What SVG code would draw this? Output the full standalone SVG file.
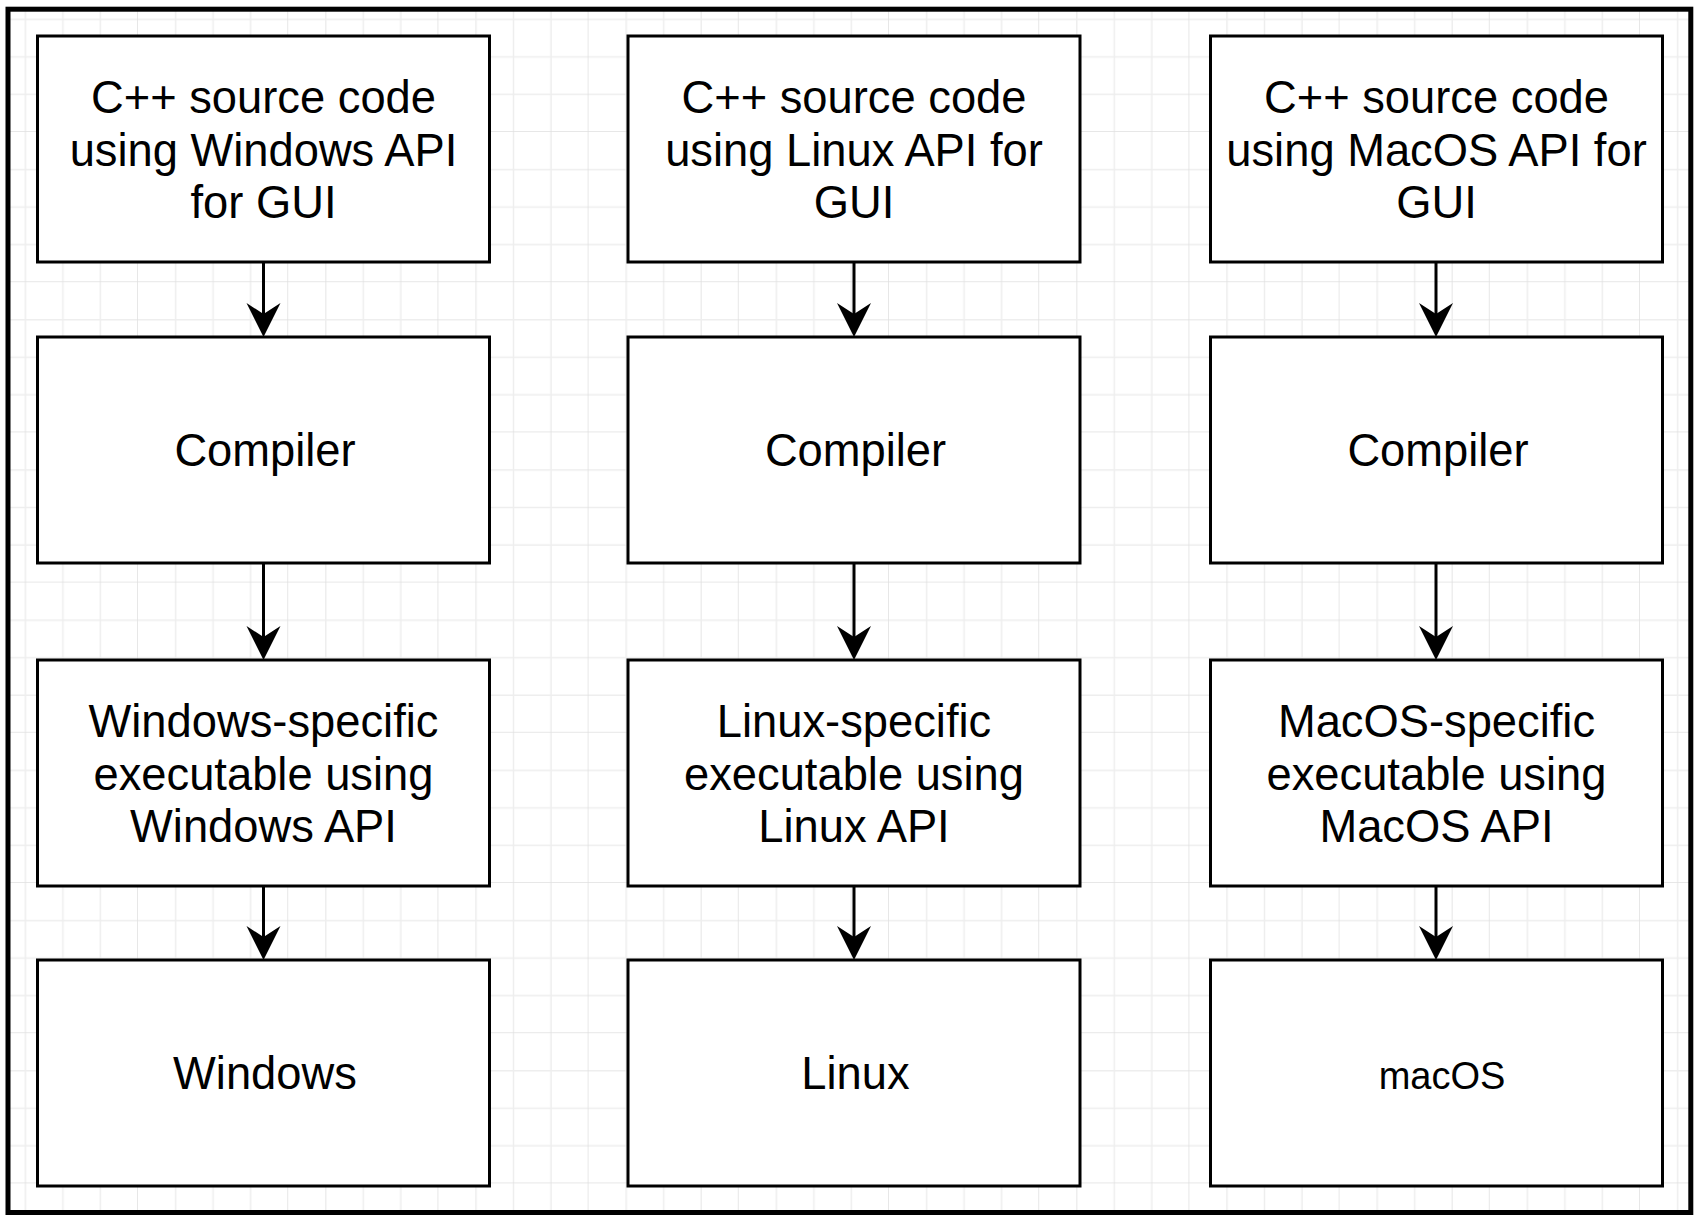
<svg xmlns="http://www.w3.org/2000/svg" width="1705" height="1218" viewBox="0 0 1705 1218">
<style>
.box{fill:#ffffff;stroke:#000000;stroke-width:3}
.t{font-family:"Liberation Sans",Arial,Helvetica,sans-serif;font-size:45.3px;fill:#000000;text-anchor:middle}
.conn{stroke:#000000;stroke-width:3;fill:none;marker-end:url(#arr)}
</style>
<defs>
<pattern id="grid" patternUnits="userSpaceOnUse" x="-12.2" y="-18.2" width="150.2" height="150.2">
<path d="M37.55,0V150.2M75.1,0V150.2M112.65,0V150.2M0,37.55H150.2M0,75.1H150.2M0,112.65H150.2" stroke="#eeeeee" stroke-width="1.5" fill="none"/>
<path d="M150.2,0V150.2M0,150.2H150.2" stroke="#e0e0e0" stroke-width="1.5" fill="none"/>
</pattern>
<marker id="arr" markerUnits="userSpaceOnUse" markerWidth="40" markerHeight="40" refX="11" refY="17" orient="auto" overflow="visible">
<path d="M34,17L0,0L11,17L0,34Z" fill="#000000"/>
</marker>
</defs>
<rect x="0" y="0" width="1705" height="1218" fill="#ffffff"/>
<rect x="8" y="9.2" width="1682.8" height="1203.3" fill="url(#grid)"/>
<rect x="8" y="9.2" width="1682.8" height="1203.3" fill="none" stroke="#000000" stroke-width="5"/>

<g id="connectors">
<path class="conn" d="M263.5,262V314"/>
<path class="conn" d="M263.5,563V637"/>
<path class="conn" d="M263.5,886V937"/>
<path class="conn" d="M854,262V314"/>
<path class="conn" d="M854,563V637"/>
<path class="conn" d="M854,886V937"/>
<path class="conn" d="M1436,262V314"/>
<path class="conn" d="M1436,563V637"/>
<path class="conn" d="M1436,886V937"/>
</g>

<g id="win-src"><rect class="box" x="37.5" y="36" width="452" height="226"/>
<text class="t" x="263.5" y="113">C++ source code</text><text class="t" x="263.5" y="165.5">using Windows API</text><text class="t" x="263.5" y="218">for GUI</text></g>
<g id="win-comp"><rect class="box" x="37.5" y="337" width="452" height="226"/>
<text class="t" x="265" y="466">Compiler</text></g>
<g id="win-exe"><rect class="box" x="37.5" y="660" width="452" height="226"/>
<text class="t" x="263.5" y="737">Windows-specific</text><text class="t" x="263.5" y="789.5">executable using</text><text class="t" x="263.5" y="842">Windows API</text></g>
<g id="win-os"><rect class="box" x="37.5" y="960" width="452" height="226"/>
<text class="t" x="265" y="1089">Windows</text></g>

<g id="lin-src"><rect class="box" x="628" y="36" width="452" height="226"/>
<text class="t" x="854" y="113">C++ source code</text><text class="t" x="854" y="165.5">using Linux API for</text><text class="t" x="854" y="218">GUI</text></g>
<g id="lin-comp"><rect class="box" x="628" y="337" width="452" height="226"/>
<text class="t" x="855.5" y="466">Compiler</text></g>
<g id="lin-exe"><rect class="box" x="628" y="660" width="452" height="226"/>
<text class="t" x="854" y="737">Linux-specific</text><text class="t" x="854" y="789.5">executable using</text><text class="t" x="854" y="842">Linux API</text></g>
<g id="lin-os"><rect class="box" x="628" y="960" width="452" height="226"/>
<text class="t" x="855.5" y="1089">Linux</text></g>

<g id="mac-src"><rect class="box" x="1210.5" y="36" width="452" height="226"/>
<text class="t" x="1436.5" y="113">C++ source code</text><text class="t" x="1436.5" y="165.5">using MacOS API for</text><text class="t" x="1436.5" y="218">GUI</text></g>
<g id="mac-comp"><rect class="box" x="1210.5" y="337" width="452" height="226"/>
<text class="t" x="1438" y="466">Compiler</text></g>
<g id="mac-exe"><rect class="box" x="1210.5" y="660" width="452" height="226"/>
<text class="t" x="1436.5" y="737">MacOS-specific</text><text class="t" x="1436.5" y="789.5">executable using</text><text class="t" x="1436.5" y="842">MacOS API</text></g>
<g id="mac-os"><rect class="box" x="1210.5" y="960" width="452" height="226"/>
<text class="t" x="1442" y="1089" style="font-size:38px">macOS</text></g>
</svg>
